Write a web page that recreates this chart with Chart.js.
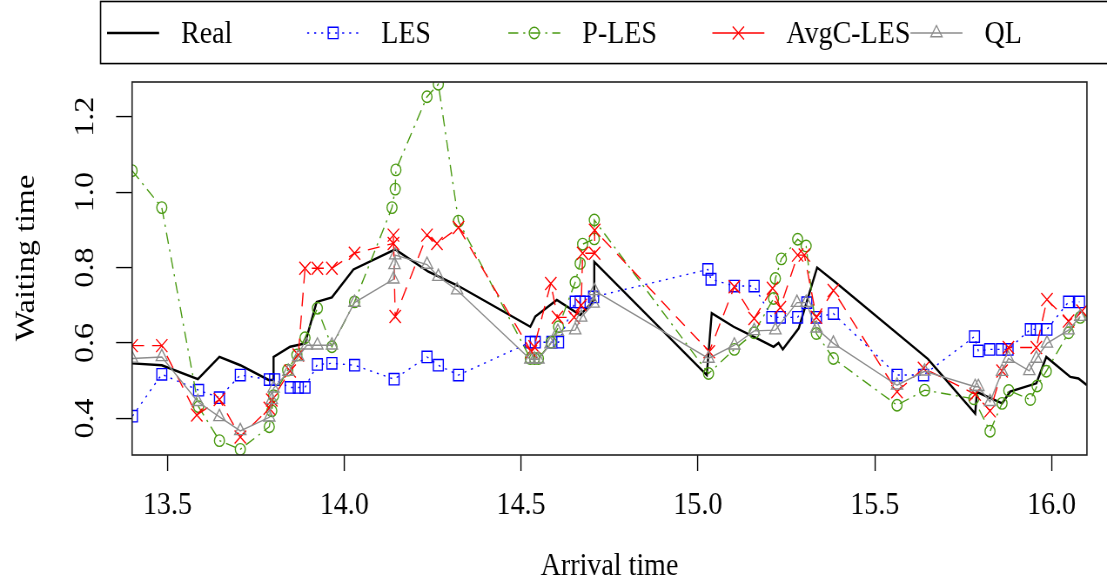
<!DOCTYPE html>
<html>
<head>
<meta charset="utf-8">
<script src="https://cdn.jsdelivr.net/npm/chart.js@4.4.1/dist/chart.umd.min.js"></script>
<style>
  html, body { margin: 0; padding: 0; background: #fff; }
  #wrap { width: 1107px; height: 584px; }
</style>
</head>
<body>
<div id="wrap"><canvas id="waitChart" width="1107" height="508" style="width:1107px;height:584px"></canvas></div>
<script>
// tick labels
const xTicks = [13.5, 14.0, 14.5, 15.0, 15.5, 16.0];
const yTicks = [0.4, 0.6, 0.8, 1.0, 1.2];

// Real
const realX = [13.4, 13.484, 13.586, 13.647, 13.706, 13.786, 13.8, 13.8, 13.847, 13.889, 13.922, 13.965, 14.026, 14.144, 14.238, 14.323, 14.526, 14.54, 14.601, 14.667, 14.707, 14.707, 15.025, 15.039, 15.101, 15.167, 15.214, 15.228, 15.24, 15.285, 15.337, 15.388, 15.65, 15.784, 15.789, 15.86, 15.883, 15.957, 15.985, 16.053, 16.076, 16.1];
const realY = [0.546, 0.541, 0.504, 0.563, 0.541, 0.502, 0.502, 0.563, 0.59, 0.599, 0.709, 0.721, 0.795, 0.848, 0.789, 0.751, 0.643, 0.67, 0.714, 0.674, 0.714, 0.815, 0.515, 0.679, 0.643, 0.612, 0.59, 0.6, 0.583, 0.639, 0.8, 0.762, 0.558, 0.413, 0.47, 0.44, 0.471, 0.493, 0.563, 0.51, 0.506, 0.488];

// LES
const lesX = [13.401, 13.484, 13.588, 13.647, 13.706, 13.788, 13.803, 13.847, 13.87, 13.889, 13.924, 13.965, 14.029, 14.141, 14.234, 14.266, 14.323, 14.526, 14.54, 14.587, 14.606, 14.653, 14.667, 14.681, 14.705, 15.028, 15.037, 15.103, 15.159, 15.209, 15.233, 15.282, 15.308, 15.335, 15.383, 15.563, 15.638, 15.782, 15.793, 15.825, 15.858, 15.877, 15.94, 15.957, 15.987, 16.048, 16.079];
const lesY = [0.406, 0.517, 0.475, 0.455, 0.515, 0.503, 0.503, 0.482, 0.482, 0.482, 0.543, 0.546, 0.541, 0.504, 0.563, 0.541, 0.515, 0.602, 0.602, 0.602, 0.602, 0.709, 0.709, 0.709, 0.722, 0.795, 0.769, 0.751, 0.751, 0.668, 0.668, 0.668, 0.707, 0.668, 0.678, 0.515, 0.515, 0.617, 0.579, 0.583, 0.583, 0.583, 0.636, 0.636, 0.636, 0.709, 0.709];

// P-LES
const plesX = [13.4, 13.484, 13.588, 13.647, 13.706, 13.788, 13.795, 13.8, 13.84, 13.866, 13.889, 13.924, 13.965, 14.029, 14.135, 14.144, 14.146, 14.234, 14.266, 14.323, 14.526, 14.538, 14.549, 14.585, 14.606, 14.653, 14.667, 14.674, 14.707, 14.707, 15.03, 15.103, 15.159, 15.214, 15.219, 15.236, 15.282, 15.306, 15.335, 15.383, 15.563, 15.641, 15.78, 15.826, 15.86, 15.879, 15.94, 15.959, 15.985, 16.048, 16.081];
const plesY = [1.057, 0.959, 0.431, 0.341, 0.318, 0.378, 0.42, 0.46, 0.528, 0.568, 0.614, 0.692, 0.59, 0.709, 0.959, 1.008, 1.059, 1.253, 1.286, 0.923, 0.559, 0.559, 0.559, 0.602, 0.643, 0.761, 0.811, 0.862, 0.876, 0.926, 0.519, 0.583, 0.627, 0.718, 0.771, 0.823, 0.875, 0.857, 0.625, 0.559, 0.435, 0.475, 0.452, 0.366, 0.44, 0.474, 0.45, 0.486, 0.525, 0.627, 0.668];

// AvgC-LES
const avgX = [13.4, 13.484, 13.583, 13.647, 13.706, 13.788, 13.795, 13.847, 13.87, 13.889, 13.924, 13.965, 14.029, 14.139, 14.139, 14.144, 14.234, 14.262, 14.323, 14.529, 14.537, 14.584, 14.603, 14.65, 14.67, 14.674, 14.708, 14.708, 15.032, 15.103, 15.159, 15.211, 15.233, 15.282, 15.301, 15.335, 15.383, 15.563, 15.638, 15.784, 15.826, 15.86, 15.878, 15.957, 15.987, 16.048, 16.086];
const avgY = [0.593, 0.593, 0.409, 0.45, 0.351, 0.427, 0.449, 0.526, 0.568, 0.798, 0.798, 0.798, 0.838, 0.864, 0.886, 0.67, 0.886, 0.864, 0.906, 0.577, 0.59, 0.758, 0.668, 0.668, 0.7, 0.838, 0.838, 0.899, 0.577, 0.749, 0.665, 0.745, 0.694, 0.833, 0.833, 0.668, 0.739, 0.471, 0.533, 0.464, 0.42, 0.526, 0.588, 0.588, 0.715, 0.658, 0.685];

// QL
const qlX = [13.4, 13.484, 13.586, 13.647, 13.706, 13.788, 13.795, 13.8, 13.842, 13.87, 13.894, 13.924, 13.965, 14.029, 14.139, 14.142, 14.144, 14.234, 14.266, 14.319, 14.526, 14.538, 14.549, 14.583, 14.604, 14.653, 14.67, 14.705, 14.708, 15.03, 15.103, 15.159, 15.219, 15.28, 15.306, 15.335, 15.383, 15.563, 15.641, 15.784, 15.793, 15.826, 15.86, 15.878, 15.937, 15.957, 15.987, 16.048, 16.081];
const qlY = [0.559, 0.563, 0.444, 0.404, 0.367, 0.403, 0.449, 0.48, 0.524, 0.563, 0.594, 0.594, 0.594, 0.707, 0.769, 0.807, 0.833, 0.808, 0.776, 0.74, 0.557, 0.557, 0.557, 0.597, 0.63, 0.634, 0.668, 0.705, 0.738, 0.559, 0.594, 0.632, 0.634, 0.707, 0.707, 0.639, 0.599, 0.488, 0.525, 0.484, 0.484, 0.444, 0.524, 0.559, 0.526, 0.559, 0.599, 0.634, 0.67];

const FONT = 'Liberation Serif, Times New Roman, serif';
const GREEN = '#4a9a12';
const GREY = '#8c8c8c';
// the reference is a bit taller than its fonts: draw at 508 px high, show at 584
const STRETCH = 584 / 508;

function pts(xs, ys) {
  return xs.map((x, i) => ({ x: x, y: ys[i] }));
}

const series = [
  { label: 'Real', xs: realX, ys: realY, color: '#000000', dash: [], style: false, radius: 0, width: 2.1 },
  { label: 'LES', xs: lesX, ys: lesY, color: '#0000ff', dash: [2, 5], style: 'rect', radius: 7, width: 1.2 },
  { label: 'P-LES', xs: plesX, ys: plesY, color: GREEN, dash: [10, 5, 2, 5], style: 'circle', radius: 5, width: 1.2 },
  { label: 'AvgC-LES', xs: avgX, ys: avgY, color: '#ff0000', dash: [12, 8], style: 'crossRot', radius: 8, width: 1.2 },
  { label: 'QL', xs: qlX, ys: qlY, color: GREY, dash: [], style: 'triangle', radius: 6.5, width: 1.2 }
];

// R-style box legend across the top, plot box, y title
const extras = {
  id: 'extras',
  afterDraw(chart) {
    const ctx = chart.ctx;
    ctx.save();
    ctx.strokeStyle = '#000';
    ctx.lineWidth = 1.4;
    ctx.strokeRect(100.5, 1.3, 1030, 54);
    const starts = [107, 307, 508, 712, 910];
    const cy = 28.7;
    series.forEach((s, i) => {
      const x0 = starts[i];
      ctx.strokeStyle = s.color;
      ctx.lineWidth = s.width;
      ctx.setLineDash(s.label === 'AvgC-LES' ? [] : s.dash);
      ctx.beginPath();
      ctx.moveTo(x0, cy);
      ctx.lineTo(x0 + 52, cy);
      ctx.stroke();
      ctx.setLineDash([]);
      if (s.style) {
        ctx.lineWidth = 1.2;
        ctx.fillStyle = 'rgba(0,0,0,0)';
        Chart.helpers.drawPoint(ctx, { pointStyle: s.style, radius: s.radius, borderWidth: 1.2, rotation: 0 }, x0 + 26, cy);
      }
      ctx.fillStyle = '#000';
      ctx.font = '28px ' + FONT;
      ctx.textBaseline = 'middle';
      ctx.textAlign = 'left';
      ctx.fillText(s.label, x0 + 74, cy + 1);
    });
    const a = chart.chartArea;
    ctx.strokeStyle = '#222';
    ctx.lineWidth = 1.4;
    ctx.strokeRect(a.left, a.top, a.right - a.left, a.bottom - a.top);
    ctx.translate(27, 258 / STRETCH);
    ctx.rotate(-Math.PI / 2);
    ctx.textAlign = 'center';
    ctx.fillText('Waiting time', 0, 0);
    ctx.restore();
  }
};

new Chart(document.getElementById('waitChart'), {
  type: 'scatter',
  data: {
    datasets: series.map((s, i) => ({
      label: s.label,
      data: pts(s.xs, s.ys),
      showLine: true,
      tension: 0,
      borderColor: s.color,
      borderWidth: s.width,
      borderDash: s.dash,
      backgroundColor: 'rgba(0,0,0,0)',
      pointStyle: s.style,
      pointRadius: s.radius,
      pointBorderWidth: 1.2,
      pointBorderColor: s.color,
      pointBackgroundColor: 'rgba(0,0,0,0)',
      clip: 0,
      order: 5 - i
    }))
  },
  options: {
    responsive: false,
    devicePixelRatio: STRETCH,
    animation: false,
    events: [],
    layout: { padding: { top: 82 / STRETCH, right: 20.6, left: 0, bottom: 0 } },
    plugins: { legend: { display: false }, tooltip: { enabled: false } },
    scales: {
      x: {
        type: 'linear',
        position: 'bottom',
        min: 13.4,
        max: 16.1,
        afterFit: s => { s.height = 508 - 455 / STRETCH; },
        afterBuildTicks: s => { s.ticks = xTicks.map(v => ({ value: v })); },
        grid: { drawOnChartArea: false, drawTicks: true, tickLength: 16 / STRETCH, tickColor: '#000', tickWidth: 1.2 },
        border: { display: false },
        ticks: {
          color: '#000', font: { family: FONT, size: 28 }, padding: 13,
          maxRotation: 0, autoSkip: false,
          callback: v => Number(v).toFixed(1)
        },
        title: { display: true, text: 'Arrival time', color: '#000', font: { family: FONT, size: 28 }, padding: { top: 0, bottom: -2 } }
      },
      y: {
        type: 'linear',
        min: 0.303,
        max: 1.292,
        afterFit: s => { s.width = 132; },
        afterBuildTicks: s => { s.ticks = yTicks.map(v => ({ value: v })); },
        grid: { drawOnChartArea: false, drawTicks: true, tickLength: 16, tickColor: '#000', tickWidth: 1.2 },
        border: { display: false },
        ticks: {
          color: '#000', font: { family: FONT, size: 28 }, padding: 13,
          minRotation: 90, maxRotation: 90, crossAlign: 'center', autoSkip: false,
          callback: v => Number(v).toFixed(1)
        },
        title: { display: false }
      }
    }
  },
  plugins: [extras]
});
</script>
</body>
</html>
